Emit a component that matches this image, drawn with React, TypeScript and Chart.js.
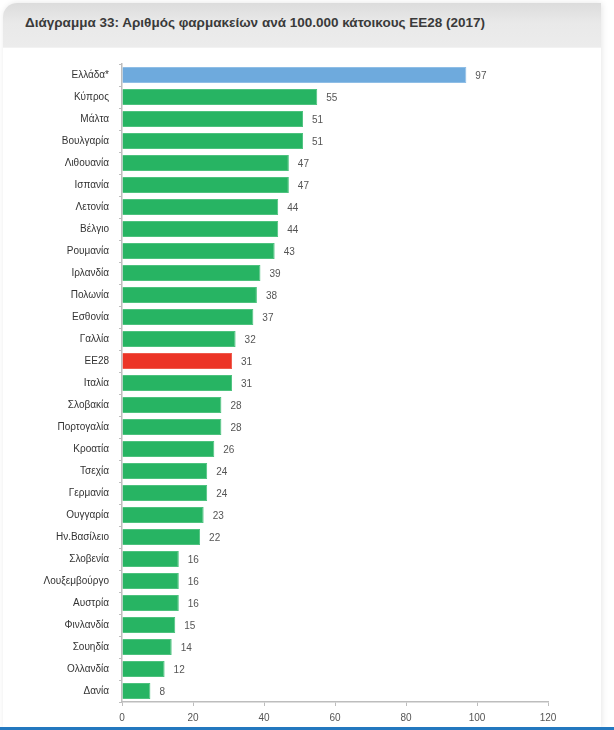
import React, { useEffect, useRef } from "react";
import { Chart, registerables } from "chart.js";

Chart.register(...registerables);

const TITLE = "Διάγραμμα 33: Αριθμός φαρμακείων ανά 100.000 κάτοικους ΕΕ28 (2017)";

const categories = [
  "Ελλάδα*", "Κύπρος", "Μάλτα", "Βουλγαρία", "Λιθουανία", "Ισπανία", "Λετονία", "Βέλγιο",
  "Ρουμανία", "Ιρλανδία", "Πολωνία", "Εσθονία", "Γαλλία", "ΕΕ28", "Ιταλία", "Σλοβακία",
  "Πορτογαλία", "Κροατία", "Τσεχία", "Γερμανία", "Ουγγαρία", "Ην.Βασίλειο", "Σλοβενία",
  "Λουξεμβούργο", "Αυστρία", "Φινλανδία", "Σουηδία", "Ολλανδία", "Δανία",
];

const values = [97, 55, 51, 51, 47, 47, 44, 44, 43, 39, 38, 37, 32, 31, 31, 28, 28, 26, 24, 24, 23, 22, 16, 16, 16, 15, 14, 12, 8];

const xTicks = [0, 20, 40, 60, 80, 100, 120];

const GREEN = "#27b463";
const BLUE = "#6eaadd";
const RED = "#ec3426";

function barColor(c: string) {
  if (c === "Ελλάδα*") return BLUE;
  if (c === "ΕΕ28") return RED;
  return GREEN;
}
function barBorder(c: string) {
  if (c === "Ελλάδα*") return "#8fbee6";
  if (c === "ΕΕ28") return "#ef5a4c";
  return "#4dc27e";
}

const FONT = "'Liberation Sans', Arial, Helvetica, sans-serif";

const valueLabels = {
  id: "valueLabels",
  afterDatasetsDraw(chart: any) {
    const ctx = chart.ctx;
    const meta = chart.getDatasetMeta(0);
    ctx.save();
    ctx.font = `10px ${FONT}`;
    ctx.fillStyle = "#555555";
    ctx.textAlign = "left";
    ctx.textBaseline = "middle";
    meta.data.forEach((bar: any, i: number) => {
      ctx.fillText(String(values[i]), bar.x + 9, bar.y + 1);
    });
    ctx.restore();
  },
};

export default function App() {
  const ref = useRef<HTMLCanvasElement | null>(null);

  useEffect(() => {
    document.body.style.margin = "0";
    if (!ref.current) return;
    const chart = new Chart(ref.current, {
      type: "bar",
      data: {
        labels: categories,
        datasets: [
          {
            data: values,
            backgroundColor: categories.map(barColor),
            borderColor: categories.map(barBorder),
            borderWidth: 1,
            barPercentage: 0.72,
            categoryPercentage: 1,
          },
        ],
      },
      options: {
        indexAxis: "y",
        animation: false,
        responsive: false,
        maintainAspectRatio: false,
        devicePixelRatio: 1,
        layout: { padding: { left: 0, right: 66, top: 64, bottom: 0 } },
        plugins: {
          legend: { display: false },
          tooltip: { enabled: false },
          title: { display: false },
        },
        scales: {
          x: {
            min: 0,
            max: 120,
            afterBuildTicks: (scale: any) => {
              scale.ticks = xTicks.map((v) => ({ value: v }));
            },
            afterFit: (scale: any) => {
              scale.height = 28;
            },
            grid: {
              display: true,
              drawOnChartArea: false,
              drawTicks: true,
              tickLength: 4,
              color: "#bdbdbd",
            },
            border: { display: true, color: "#bdbdbd", width: 1.5 },
            ticks: {
              font: { family: FONT, size: 10 },
              color: "#555555",
              padding: 6,
            },
          },
          y: {
            afterFit: (scale: any) => {
              scale.width = 122;
            },
            grid: {
              display: true,
              drawOnChartArea: false,
              drawTicks: true,
              tickLength: 3,
              color: "#bdbdbd",
              offset: true,
            },
            border: { display: true, color: "#bdbdbd", width: 1.5 },
            ticks: {
              font: { family: FONT, size: 10 },
              color: "#333333",
              padding: 10,
              autoSkip: false,
            },
          },
        },
      },
      plugins: [valueLabels],
    });
    return () => chart.destroy();
  }, []);

  return (
    <div style={{ position: "relative", width: 614, height: 730, background: "#ffffff", overflow: "hidden" }}>
      <div
        style={{
          position: "absolute",
          left: 3,
          top: 3,
          width: 598,
          height: 724,
          borderTopLeftRadius: 14,
          background: "#ffffff",
          boxShadow: "1px 0 6px rgba(0,0,0,0.10)",
          overflow: "hidden",
        }}
      >
        <div
          style={{
            position: "absolute",
            left: 0,
            top: 0,
            width: "100%",
            height: 44,
            background: "linear-gradient(#dcdcdc, #e9e9e9 45%, #ececec)",
            borderBottom: "1px solid #f2f2f2",
          }}
        />
        <div
          style={{
            position: "absolute",
            left: 22,
            top: 12,
            fontFamily: FONT,
            fontWeight: "bold",
            fontSize: 13.5,
            color: "#3a3a3a",
            whiteSpace: "nowrap",
          }}
        >
          {TITLE}
        </div>
      </div>
      <div style={{ position: "absolute", left: 0, top: 727, width: 614, height: 3, background: "#2378bf" }} />
      <canvas ref={ref} width={614} height={730} style={{ position: "absolute", left: 0, top: 0, width: 614, height: 730 }} />
    </div>
  );
}
